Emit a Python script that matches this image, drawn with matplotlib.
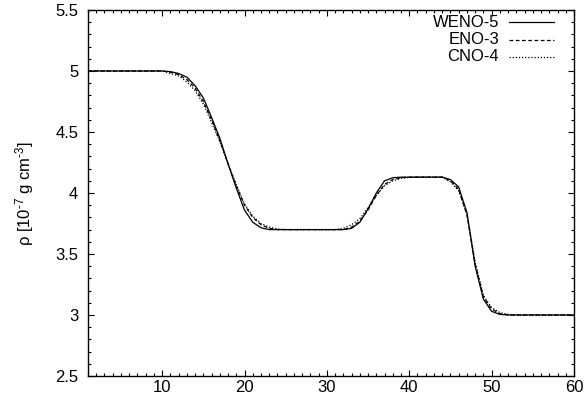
import matplotlib
matplotlib.use("Agg")
import matplotlib.pyplot as plt
from matplotlib.ticker import MultipleLocator

plt.rcParams['font.family'] = ['Liberation Sans', 'DejaVu Sans']
plt.rcParams['mathtext.fontset'] = 'custom'
plt.rcParams['mathtext.rm'] = 'Liberation Sans'
plt.rcParams['mathtext.it'] = 'Liberation Sans'

x = list(range(1, 61))

weno5 = [5.0]*10 + [4.995, 4.98, 4.95, 4.88, 4.78, 4.62, 4.45, 4.24, 4.04, 3.86,
                    3.76, 3.715, 3.70] + [3.70]*9 + [3.71, 3.76, 3.87, 4.00, 4.10, 4.125] + \
        [4.13]*6 + [4.11, 4.05, 3.84, 3.40, 3.13, 3.03, 3.005] + [3.0]*9

eno3 = [5.0]*10 + [4.99, 4.97, 4.93, 4.86, 4.75, 4.60, 4.43, 4.24, 4.06, 3.90,
                   3.80, 3.74, 3.71] + [3.70]*9 + [3.72, 3.77, 3.86, 3.98, 4.07, 4.11, 4.125] + \
       [4.13]*5 + [4.10, 4.03, 3.82, 3.42, 3.15, 3.05, 3.01, 3.002] + [3.0]*8

cno4 = [5.0]*10 + [4.98, 4.96, 4.91, 4.84, 4.73, 4.58, 4.42, 4.24, 4.07, 3.91,
                   3.81, 3.75, 3.72, 3.705] + [3.70]*7 + [3.71, 3.74, 3.79, 3.88, 3.98, 4.06, 4.10, 4.12, 4.128] + \
       [4.13]*4 + [4.09, 4.02, 3.83, 3.43, 3.16, 3.06, 3.02, 3.005] + [3.0]*8

labels = ["WENO-5", "ENO-3", "CNO-4"]
series = [weno5, eno3, cno4]
styles = ['-', (0, (3, 2)), (0, (1, 1.5))]

FS = 12

fig = plt.figure(figsize=(5.87, 4.03), dpi=100)
ax = fig.add_axes([88/587, 1-376/403, (574-88)/587, (376-10)/403])

for s, ls in zip(series, styles):
    ax.plot(x, s, color='black', lw=0.9, linestyle=ls)

ax.set_xlim(1, 60)
ax.set_ylim(2.5, 5.5)
ax.xaxis.set_major_locator(MultipleLocator(10))
ax.xaxis.set_minor_locator(MultipleLocator(1))
ax.yaxis.set_major_locator(MultipleLocator(0.5))
ax.yaxis.set_minor_locator(MultipleLocator(0.1))
ax.tick_params(which='both', direction='in', top=True, right=True, labelsize=FS, width=0.8)
ax.tick_params(which='major', length=4.5)
ax.tick_params(which='minor', length=2.5)
ax.tick_params(axis='x', pad=3)
ax.tick_params(axis='y', pad=7)
ax.set_yticks([2.5, 3, 3.5, 4, 4.5, 5, 5.5])
ax.set_yticklabels(['2.5', '3', '3.5', '4', '4.5', '5', '5.5'])
for sp in ax.spines.values():
    sp.set_linewidth(1.0)

ax.set_ylabel(r"ρ [10$^{\text{-}7}$ g cm$^{\text{-}3}$]", fontsize=FS, labelpad=14)

# legend drawn gnuplot-style: right-aligned text, sample to its right
leg_y = [0.967, 0.919, 0.872]
for lab, ls, yy in zip(labels, styles, leg_y):
    ax.text(0.846, yy, lab, transform=ax.transAxes, ha='right', va='center', fontsize=FS)
    ax.plot([0.866, 0.959], [yy, yy], transform=ax.transAxes, color='black',
            lw=0.9, linestyle=ls, clip_on=False)

fig.savefig("out.png", dpi=100)
